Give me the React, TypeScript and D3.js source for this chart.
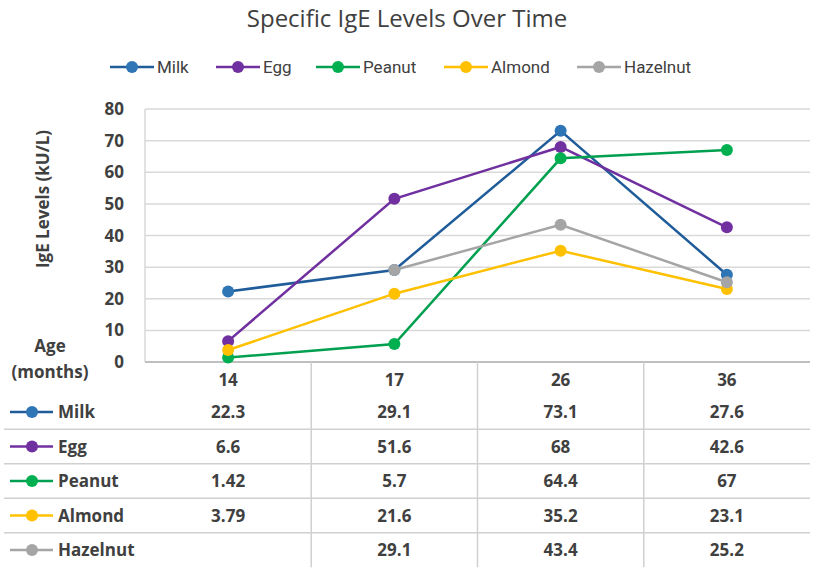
import { line, scaleBand, scaleLinear } from "d3";

const ages = ["14", "17", "26", "36"];
const milk = [22.3, 29.1, 73.1, 27.6];
const egg = [6.6, 51.6, 68, 42.6];
const peanut = [1.42, 5.7, 64.4, 67];
const almond = [3.79, 21.6, 35.2, 23.1];
const hazelnut = [null, 29.1, 43.4, 25.2];
const yTicks = [0, 10, 20, 30, 40, 50, 60, 70, 80];

const series = [
  { name: "Milk", values: milk, stroke: "#1f5c99", fill: "#2e75b6" },
  { name: "Egg", values: egg, stroke: "#7030a0", fill: "#7030a0" },
  { name: "Peanut", values: peanut, stroke: "#00a050", fill: "#00b050" },
  { name: "Almond", values: almond, stroke: "#ffc000", fill: "#ffc000" },
  { name: "Hazelnut", values: hazelnut, stroke: "#a5a5a5", fill: "#a5a5a5" },
];

const W = 813;
const H = 573;
const left = 145;
const right = 810;
const top = 109;
const bottom = 362;
const rowH = 34.5;
const headerY = 380;
const firstRow = 412;
const textColor = "#404040";
const font = "'Open Sans', 'Noto Sans', sans-serif";
// legend key start x for each entry
const legendX = [110, 216, 316, 444, 577];

export default function App() {
  const x = scaleBand().domain(ages).range([left, right]);
  const y = scaleLinear().domain([0, 80]).range([bottom, top]);
  const cx = (a: string) => (x(a) ?? 0) + x.bandwidth() / 2;

  const path = line<number | null>()
    .defined((d) => d != null)
    .x((_, i) => cx(ages[i]))
    .y((d) => y(d as number));

  const tableEnd = firstRow + rowH * 4.5;

  return (
    <svg width={W} height={H} style={{ position: "absolute", left: 0, top: 0, background: "#fff" }}>
      <text x={407} y={27} textAnchor="middle" fontFamily={font} fontSize={24} fill={textColor}>
        Specific IgE Levels Over Time
      </text>

      {/* legend */}
      {series.map((s, i) => (
        <g key={s.name} transform={`translate(${legendX[i]},67)`}>
          <line x1={0} x2={44} y1={0} y2={0} stroke={s.stroke} strokeWidth={2.5} />
          <circle cx={22} cy={0} r={6} fill={s.fill} />
          <text x={47} y={6} fontFamily="Roboto, sans-serif" fontSize={17} fill={textColor}>
            {s.name}
          </text>
        </g>
      ))}

      {/* grid */}
      {yTicks.map((t) => (
        <g key={t}>
          {t > 0 && <line x1={left} x2={right} y1={y(t)} y2={y(t)} stroke="#d9d9d9" strokeWidth={1.5} />}
          <text x={124} y={y(t) + 6} textAnchor="end" fontFamily={font} fontWeight="bold" fontSize={17} fill={textColor}>
            {t}
          </text>
        </g>
      ))}
      <line x1={left} x2={left} y1={top} y2={bottom} stroke="#d9d9d9" strokeWidth={1.5} />

      <text transform="translate(49,199) rotate(-90)" textAnchor="middle" fontFamily={font} fontWeight="bold" fontSize={17} fill={textColor}>
        IgE Levels (kU/L)
      </text>

      {/* table */}
      <line x1={left} x2={right} y1={bottom} y2={bottom} stroke="#bfbfbf" strokeWidth={2} />
      {ages.slice(1).map((a) => (
        <line key={a} x1={x(a)} x2={x(a)} y1={bottom} y2={tableEnd} stroke="#d0d0d0" strokeWidth={1.5} />
      ))}
      {series.slice(1).map((s, i) => (
        <line key={s.name} x1={4} x2={right} y1={firstRow + rowH * (i + 0.5)} y2={firstRow + rowH * (i + 0.5)} stroke="#d0d0d0" strokeWidth={1.5} />
      ))}

      <text x={50} y={352} textAnchor="middle" fontFamily={font} fontWeight="bold" fontSize={17} fill={textColor}>
        Age
      </text>
      <text x={50} y={378} textAnchor="middle" fontFamily={font} fontWeight="bold" fontSize={17} fill={textColor}>
        (months)
      </text>
      {ages.map((a) => (
        <text key={a} x={cx(a)} y={headerY + 6} textAnchor="middle" fontFamily={font} fontWeight="bold" fontSize={17} fill={textColor}>
          {a}
        </text>
      ))}

      {series.map((s, i) => {
        const ry = firstRow + rowH * i;
        return (
          <g key={s.name}>
            <line x1={10} x2={53} y1={ry} y2={ry} stroke={s.stroke} strokeWidth={2.5} />
            <circle cx={32} cy={ry} r={6} fill={s.fill} />
            <text x={58} y={ry + 6} fontFamily={font} fontWeight="bold" fontSize={17} fill={textColor}>
              {s.name}
            </text>
            {s.values.map((v, j) =>
              v == null ? null : (
                <text key={j} x={cx(ages[j])} y={ry + 6} textAnchor="middle" fontFamily={font} fontWeight="bold" fontSize={17} fill={textColor}>
                  {v}
                </text>
              )
            )}
          </g>
        );
      })}

      {/* series */}
      {series.map((s) => (
        <g key={s.name}>
          <path d={path(s.values) ?? ""} fill="none" stroke={s.stroke} strokeWidth={2.5} />
          {s.values.map((v, j) =>
            v == null ? null : <circle key={j} cx={cx(ages[j])} cy={y(v)} r={6} fill={s.fill} />
          )}
        </g>
      ))}
    </svg>
  );
}
